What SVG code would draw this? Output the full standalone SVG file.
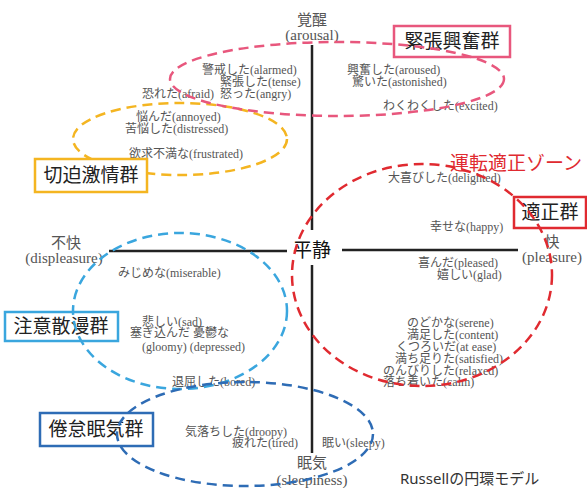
<svg xmlns="http://www.w3.org/2000/svg" width="587" height="488" viewBox="0 0 587 488">
<style>
.em{font-family:"Liberation Serif","Noto Sans CJK JP",serif;font-size:12px;fill:#555}
.ax{font-family:"Liberation Serif","Noto Sans CJK JP",serif;font-size:15px;fill:#555;text-anchor:middle}
.gl{font-family:"Noto Sans CJK JP","Noto Sans",sans-serif;font-size:19px;fill:#222;text-anchor:middle}
.box{fill:#fff;stroke-width:2.5}
.el{fill:none;stroke-width:2.5;stroke-dasharray:10 6}
.axis{stroke:#222;stroke-width:2.5;fill:none}
</style>
<rect width="587" height="488" fill="#fff"/>
<g id="axes">
<line class="axis" x1="312" y1="45" x2="312" y2="230"/>
<line class="axis" x1="312" y1="265" x2="312" y2="453"/>
<line class="axis" x1="109" y1="251" x2="287" y2="251"/>
<line class="axis" x1="342" y1="250" x2="518" y2="250"/>
<text x="312" y="257" class="gl" style="font-size:19px;fill:#111">平静</text>
<text x="312" y="25" class="ax">覚醒</text>
<text x="312" y="40" class="ax">(arousal)</text>
<text x="66" y="248" class="ax">不快</text>
<text x="64" y="263" class="ax">(displeasure)</text>
<text x="552" y="247" class="ax">快</text>
<text x="552" y="262" class="ax">(pleasure)</text>
<text x="312" y="468" class="ax">眠気</text>
<text x="312" y="485" class="ax">(sleepiness)</text>
</g>
<g id="words">
<text class="em" x="202" y="74">警戒した(alarmed)</text>
<text class="em" x="220" y="86">緊張した(tense)</text>
<text class="em" x="142" y="98">恐れた(afraid)</text>
<text class="em" x="220" y="98">怒った(angry)</text>
<text class="em" x="347" y="74">興奮した(aroused)</text>
<text class="em" x="352" y="86">驚いた(astonished)</text>
<text class="em" x="383" y="110">わくわくした(excited)</text>
<text class="em" x="136" y="121">悩んだ(annoyed)</text>
<text class="em" x="125" y="133">苦悩した(distressed)</text>
<text class="em" x="129" y="158">欲求不満な(frustrated)</text>
<text class="em" x="388" y="182">大喜びした(delighted)</text>
<text class="em" x="430" y="231">幸せな(happy)</text>
<text class="em" x="418" y="267">喜んだ(pleased)</text>
<text class="em" x="437" y="279">嬉しい(glad)</text>
<text class="em" x="407" y="327">のどかな(serene)</text>
<text class="em" x="407" y="339">満足した(content)</text>
<text class="em" x="396" y="351">くつろいだ(at ease)</text>
<text class="em" x="395" y="363">満ち足りた(satisfied)</text>
<text class="em" x="383" y="375">のんびりした(relaxed)</text>
<text class="em" x="383" y="386">落ち着いた(calm)</text>
<text class="em" x="118" y="277">みじめな(miserable)</text>
<text class="em" x="142" y="326">悲しい(sad)</text>
<text class="em" x="130" y="337">塞ぎ込んだ 憂鬱な</text>
<text class="em" x="142" y="351">(gloomy) (depressed)</text>
<text class="em" x="172" y="386">退屈した(bored)</text>
<text class="em" x="185" y="436">気落ちした(droopy)</text>
<text class="em" x="232" y="447">疲れた(tired)</text>
<text class="em" x="322" y="447">眠い(sleepy)</text>
</g>
<g id="zone-frustrated">
<ellipse class="el" cx="180" cy="139" rx="107" ry="36" stroke="#f4b521"/>
<rect class="box" x="35" y="159" width="112" height="33" stroke="#f4b521"/>
<text class="gl" x="91" y="182">切迫激情群</text>
</g>
<g id="label-tense">
<rect class="box" x="394" y="26" width="116" height="31" stroke="#e8577d"/>
<text class="gl" x="452" y="48">緊張興奮群</text>
</g>
<g id="label-proper">
<rect class="box" x="514" y="197" width="72" height="31" stroke="#e02a30"/>
<text class="gl" x="550" y="219">適正群</text>
</g>
<g id="label-distracted">
<rect class="box" x="5" y="312" width="113" height="29" stroke="#3aa6de"/>
<text class="gl" x="61" y="333">注意散漫群</text>
</g>
<g id="label-fatigue">
<rect class="box" x="40" y="413" width="113" height="33" stroke="#2e6cb5"/>
<text class="gl" x="96" y="436">倦怠眠気群</text>
</g>
<g id="zones">
<ellipse class="el" cx="337" cy="79" rx="167" ry="37" stroke="#e8577d"/>
<ellipse class="el" cx="422" cy="275" rx="130" ry="111" stroke="#e02a30"/>
<ellipse class="el" cx="180" cy="311" rx="107" ry="78" stroke="#3aa6de"/>
<ellipse class="el" cx="245" cy="434" rx="128" ry="52" stroke="#2e6cb5"/>
</g>
<g id="zone-title">
<text x="450" y="170" style="font-family:'Noto Sans CJK JP','Noto Sans',sans-serif;font-size:19px;fill:#e02a30">運転適正ゾーン</text>
</g>
<g id="caption">
<text x="400" y="484" style="font-family:'Noto Sans','Noto Sans CJK JP',sans-serif;font-size:15px;fill:#333">Russellの円環モデル</text>
</g>
</svg>
